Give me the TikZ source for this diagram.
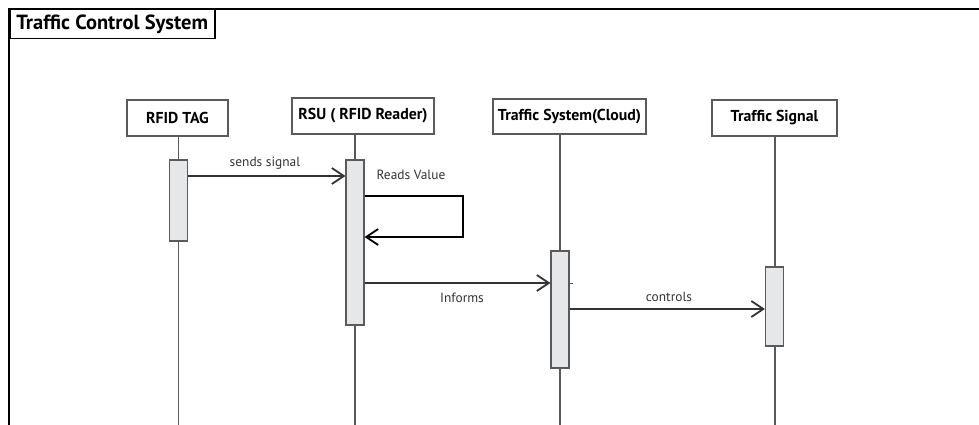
\documentclass[tikz,border=0pt]{standalone}
\usepackage{fontspec}
\setmainfont{PT Sans}
\usetikzlibrary{arrows.meta}
\definecolor{lifegray}{HTML}{5A5A5A}
\definecolor{actfill}{HTML}{E6E7E8}
\definecolor{msgcol}{HTML}{333333}
\begin{document}
\begin{tikzpicture}[x=1pt,y=-1pt,
  head/.style={draw=lifegray, line width=1.3pt, fill=white, inner sep=0pt,
    font=\bfseries\fontsize{15.8}{17}\selectfont, text=black},
  act/.style={draw=lifegray, fill=actfill, line width=1.2pt, inner sep=0pt, minimum width=18pt},
  life/.style={draw=lifegray, line width=1.2pt},
  msg/.style={draw=msgcol, line width=1.3pt,
    -{Straight Barb[length=12pt,width=16pt,line width=1.8pt]}},
  selfmsg/.style={draw=black, line width=2pt,
    -{Straight Barb[length=12pt,width=16pt,line width=1.8pt]}},
  lbl/.style={font=\fontsize{13.4}{15}\selectfont, text=msgcol, inner sep=0pt}]
\useasboundingbox (0,0) rectangle (979,425);
% frame
\draw[line width=1.5pt] (9,425) -- (9,9) -- (979,9);
\node[draw, line width=1.5pt, anchor=north west, minimum width=205pt, minimum height=29pt, inner sep=0pt,
  font=\bfseries\fontsize{20.5}{22}\selectfont] (title) at (9,9) {Traffic Control System};
% heads
\node[head, minimum width=101pt, minimum height=36pt] (tag) at (177.5,118) {RFID TAG};
\node[head, minimum width=142pt, minimum height=36pt] (rsu) at (363,116) {RSU ( RFID Reader)};
\node[head, minimum width=153pt, minimum height=35pt] (cloud) at (569.5,116.5) {Traffic System(Cloud)};
\node[head, minimum width=125pt, minimum height=36pt] (sig) at (774.5,118) {Traffic Signal};
% lifelines
\coordinate (tagx) at (178.5,425);
\coordinate (rsux) at (355,425);
\coordinate (cloudx) at (560,425);
\coordinate (sigx) at (775,425);
\draw[life] (tagx |- tag.south) -- (tagx);
\draw[life] (rsux |- rsu.south) -- (rsux);
\draw[life] (cloudx |- cloud.south) -- (cloudx);
\draw[life] (sigx |- sig.south) -- (sigx);
% activations
\node[act, minimum height=81pt] (tagact) at (178.5,200.5) {};
\node[act, minimum height=165pt] (rsuact) at (355,242.5) {};
\node[act, minimum height=117pt] (cloudact) at (560,309.5) {};
\node[act, minimum height=79pt] (sigact) at (774.5,306.5) {};
% messages
\draw[msg] (tagact.east |- 0,176) -- (rsuact.west |- 0,176);
\node[lbl] (l1) at (265,163) {sends signal};
\coordinate (loopa) at (463,196);
\coordinate (loopb) at (463,237);
\draw[selfmsg] (rsuact.east |- loopa) -- (loopa) -- (loopb) -- (rsuact.east |- loopb);
\node[lbl] (l2) at (411,175) {Reads Value};
\draw[msg] (rsuact.east |- 0,283) -- (cloudact.west |- 0,283);
\node[lbl] (l3) at (462,297.5) {Informs};
\coordinate (stub) at (573,283);
\draw[draw=lifegray, line width=1pt] (cloudact.east |- stub) -- (stub);
\draw[msg] (cloudact.east |- 0,309) -- (sigact.west |- 0,309);
\node[lbl] (l4) at (669,297) {controls};
\end{tikzpicture}
\end{document}
